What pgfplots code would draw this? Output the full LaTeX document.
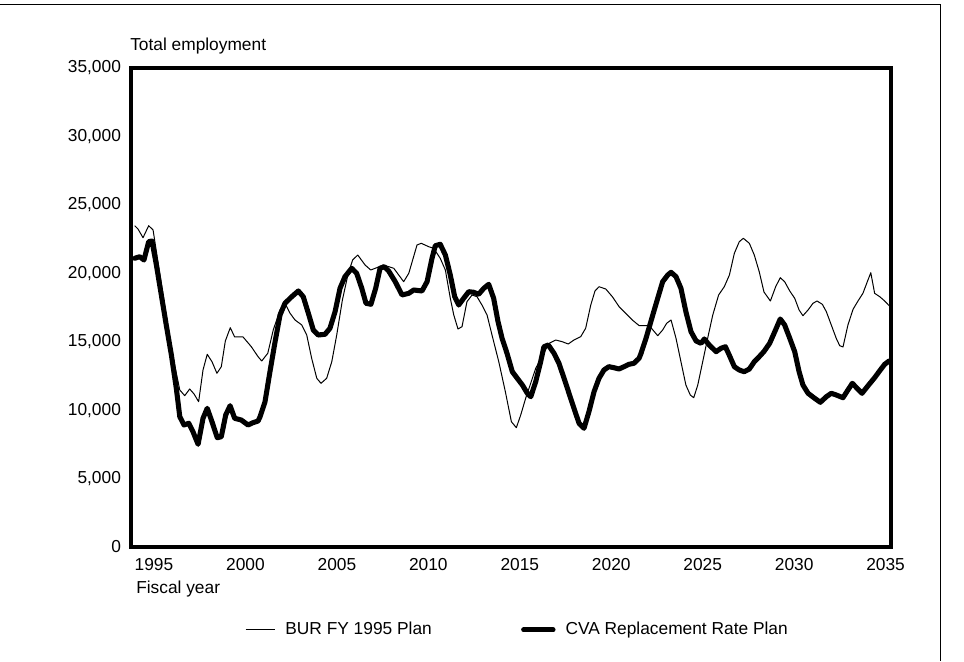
\documentclass[border=0pt]{standalone}
\usepackage{pgfplots}
\pgfplotsset{compat=1.18}
\usepackage{fontspec}
\setmainfont{Liberation Sans}
\pgfplotstableread{
x y
1993.945 23477
1994.125 23236
1994.40 22601
1994.71 23477
1994.95 23163
1995.86 15250
1996.13 13299
1996.41 11472
1996.68 11056
1996.95 11545
1997.19 11180
1997.44 10617
1997.68 12933
1997.91 14081
1998.17 13540
1998.44 12692
1998.68 13175
1998.90 15052
1999.17 16024
1999.41 15345
1999.87 15345
2000.32 14636
2000.69 13905
2000.89 13591
2001.22 14154
2001.52 15856
2001.89 17318
2002.16 17807
2002.44 17076
2002.71 16587
2003.08 16222
2003.35 15491
2003.62 13788
2003.90 12327
2004.13 11961
2004.44 12327
2004.72 13540
2004.99 15491
2005.30 18048
2005.62 19999
2005.86 20971
2006.14 21336
2006.54 20606
2006.85 20240
2007.18 20409
2007.54 20606
2008.11 20365
2008.65 19385
2008.93 19999
2009.38 22067
2009.61 22191
2010.02 21943
2010.29 21826
2010.65 21095
2010.93 20240
2011.20 18173
2011.39 16952
2011.62 15929
2011.84 16097
2012.11 17924
2012.39 18414
2012.66 18289
2012.93 17683
2013.21 16952
2013.48 15491
2013.85 13540
2014.21 11348
2014.54 9156
2014.81 8717
2015.05 9645
2015.32 10866
2015.87 13058
2016.60 14884
2016.96 15125
2017.32 15001
2017.65 14833
2017.96 15125
2018.33 15367
2018.60 15980
2018.88 17683
2019.11 18706
2019.33 19020
2019.70 18852
2020.06 18289
2020.43 17559
2020.79 17076
2021.15 16587
2021.53 16170
2022.08 16170
2022.54 15440
2022.81 15856
2023.03 16346
2023.27 16587
2023.54 15250
2023.81 13540
2024.08 11837
2024.32 11107
2024.51 10909
2024.73 11837
2025.00 13540
2025.27 15250
2025.55 16952
2025.87 18414
2026.18 19020
2026.46 19875
2026.73 21461
2027.00 22308
2027.22 22557
2027.55 22191
2027.82 21336
2028.09 20116
2028.35 18633
2028.70 17975
2028.99 19020
2029.24 19678
2029.48 19385
2029.76 18706
2030.03 18173
2030.27 17318
2030.48 16901
2030.76 17318
2031.03 17807
2031.25 17975
2031.54 17734
2031.76 17193
2032.03 16222
2032.30 15250
2032.49 14709
2032.67 14614
2032.94 16222
2033.22 17369
2033.49 17975
2033.76 18538
2034.00 19385
2034.19 20043
2034.40 18538
2034.68 18289
2034.95 17975
2035.21 17610
}\burdata
\pgfplotstableread{
x y
1993.945 21095
1994.22 21212
1994.45 20971
1994.71 22308
1994.89 22359
1995.13 20606
1995.40 18414
1995.67 16222
1995.95 14029
1996.22 11596
1996.41 9521
1996.64 8915
1996.90 9039
1997.13 8425
1997.41 7504
1997.68 9404
1997.91 10135
1998.17 9156
1998.46 7987
1998.68 8060
1998.92 9645
1999.16 10325
1999.41 9404
1999.77 9280
2000.14 8915
2000.41 9083
2000.69 9207
2000.80 9521
2001.07 10617
2001.34 12809
2001.62 15001
2001.89 16952
2002.16 17807
2002.53 18289
2002.89 18706
2003.16 18289
2003.44 17076
2003.71 15856
2003.98 15491
2004.35 15542
2004.62 15980
2004.90 17193
2005.17 18903
2005.44 19751
2005.81 20365
2006.08 19999
2006.36 18903
2006.59 17807
2006.86 17734
2007.12 18903
2007.36 20365
2007.59 20482
2007.83 20167
2008.19 19385
2008.56 18414
2008.93 18538
2009.20 18779
2009.65 18706
2009.93 19385
2010.20 21095
2010.38 22016
2010.65 22118
2010.93 21336
2011.20 19875
2011.44 18289
2011.66 17683
2011.93 18173
2012.21 18655
2012.48 18611
2012.75 18465
2013.03 18903
2013.30 19195
2013.57 18173
2013.81 16463
2014.03 15250
2014.30 14154
2014.59 12809
2014.86 12327
2015.14 11837
2015.41 11231
2015.60 10982
2015.87 12078
2016.14 13540
2016.32 14636
2016.56 14760
2016.87 14154
2017.14 13423
2017.42 12327
2017.69 11231
2017.96 10135
2018.24 9039
2018.51 8673
2018.78 9886
2019.06 11348
2019.33 12327
2019.60 12933
2019.87 13175
2020.15 13101
2020.42 13006
2020.70 13175
2020.97 13350
2021.24 13423
2021.52 13788
2021.63 14154
2021.90 15250
2022.27 16952
2022.54 18173
2022.81 19385
2023.09 19875
2023.27 20072
2023.54 19751
2023.81 18903
2024.08 17193
2024.36 15732
2024.64 15052
2024.91 14884
2025.09 15199
2025.36 14760
2025.73 14271
2026.00 14519
2026.24 14636
2026.45 14029
2026.73 13175
2027.00 12933
2027.27 12809
2027.55 13006
2027.82 13540
2028.09 13905
2028.35 14285
2028.66 14884
2028.94 15732
2029.24 16660
2029.48 16222
2029.76 15250
2030.03 14271
2030.27 12809
2030.48 11837
2030.76 11231
2031.12 10866
2031.43 10573
2031.76 10982
2032.03 11231
2032.30 11107
2032.67 10909
2032.94 11472
2033.18 11961
2033.44 11596
2033.71 11231
2034.04 11786
2034.40 12371
2034.71 12933
2034.95 13350
2035.19 13591
}\cvadata
\begin{document}
\fontsize{13}{15}\selectfont
\begin{tikzpicture}
\useasboundingbox (0pt,0pt) rectangle (723pt,495.75pt);
\draw[line width=0.75pt] (0pt,492pt) -- (705pt,492pt) -- (705pt,0pt);
\begin{axis}[
  at={(97.875pt,85.5pt)}, anchor=south west,
  scale only axis, width=570.375pt, height=359.25pt,
  xmin=1993.715, xmax=2035.295, ymin=0, ymax=35000,
  axis line style={line width=3pt},
  xtick={1995,2000,...,2035}, ytick={0,5000,...,35000},
  major tick length=0pt,
  scaled y ticks=false,
  /pgf/number format/assume math mode=true,
  xticklabel style={/pgf/number format/1000 sep={}, anchor=north, inner sep=0pt, yshift=-8.5pt},
  yticklabel style={/pgf/number format/1000 sep={,}, anchor=east, inner sep=0pt, xshift=-7pt},
  legend columns=2,
  legend style={draw=none, fill=none, at={(0.1506,-0.173)}, anchor=west, inner sep=0pt, outer sep=0pt,
    nodes={inner sep=0pt},
    /tikz/every odd column/.append style={column sep=7.5pt},
    /tikz/every even column/.append style={column sep=67pt}},
  legend image code/.code={\draw[#1] (1pt,0pt) -- (23pt,0pt);},
]
\addplot[black, line width=0.75pt, line join=round] table[x=x,y=y] {\burdata};
\addlegendentry{BUR FY 1995 Plan}
\addplot[black, line width=3.8pt, line join=round, line cap=round] table[x=x,y=y] {\cvadata};
\addlegendentry{CVA Replacement Rate Plan}
\end{axis}
\node[anchor=base west, inner sep=0pt] at (97.5pt,457.5pt) {Total employment};
\node[anchor=base west, inner sep=0pt] at (102pt,51pt) {Fiscal year};
\end{tikzpicture}
\end{document}
